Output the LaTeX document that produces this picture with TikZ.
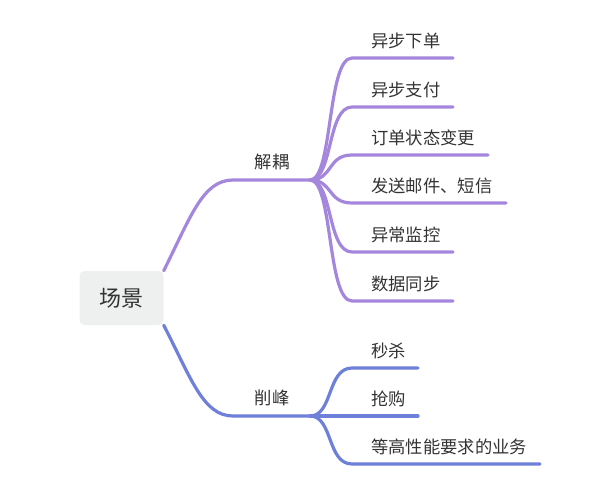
\documentclass[tikz,border=0pt]{standalone}
\usepackage{fontspec}
\setmainfont{Noto Sans CJK SC}
\definecolor{jieou}{HTML}{A487DC}
\definecolor{xiaofeng}{HTML}{6F80DA}
\definecolor{rootbg}{HTML}{EEF0EF}
\definecolor{txt}{HTML}{333333}

\begin{document}
\begin{tikzpicture}[x=1pt, y=-1pt]
	\tikzstyle{every node}=[align=center, inner sep=0pt, text=txt, font=\fontsize{17.3}{19}\selectfont]
	\tikzstyle{branch}=[line width=3.2pt, line cap=round]
	\useasboundingbox (0,0) rectangle (591,492);
		\node[fill=rootbg, rounded corners=5pt, minimum width=84pt, minimum height=54pt, font=\fontsize{22}{24}\selectfont] (root) at (121.5,298) {场景};
		\node (jolabel) at (272,162) {解耦};
		\node (xflabel) at (272,398) {削峰};
		\coordinate (jostart) at (233,180);
		\coordinate (jo) at (310,180);
		\coordinate (xfstart) at (233,416);
		\coordinate (xf) at (310,416);

		\draw[branch, jieou]  (root.north east) .. controls (191,216) and (203,180) .. (jostart) -- (jo);
		\draw[branch, xiaofeng]  (root.south east) .. controls (191,378) and (203,416) .. (xfstart) -- (xf);

		% 解耦
		\foreach \y/\e/\t [count=\i] in {58/453/异步下单, 107/453/异步支付, 155/488/订单状态变更, 203/506/发送邮件、短信, 252/453/异常监控, 301/453/数据同步}{
			\coordinate (ja\i) at (352,\y);
			\coordinate (jb\i) at (\e,\y);
			\node[anchor=west] (jt\i) at (371,\y-17) {\t};
			\draw[branch, jieou]  (jo) .. controls (333,180) and (327,\y) .. (ja\i) -- (jb\i);
		}

		% 削峰
		\foreach \y/\e/\t [count=\i] in {368/418/秒杀, 416/418/抢购, 464/540/等高性能要求的业务}{
			\coordinate (xa\i) at (352,\y);
			\coordinate (xb\i) at (\e,\y);
			\node[anchor=west] (xt\i) at (371,\y-17) {\t};
			\draw[branch, xiaofeng]  (xf) .. controls (333,416) and (327,\y) .. (xa\i) -- (xb\i);
		}
\end{tikzpicture}
\end{document}
